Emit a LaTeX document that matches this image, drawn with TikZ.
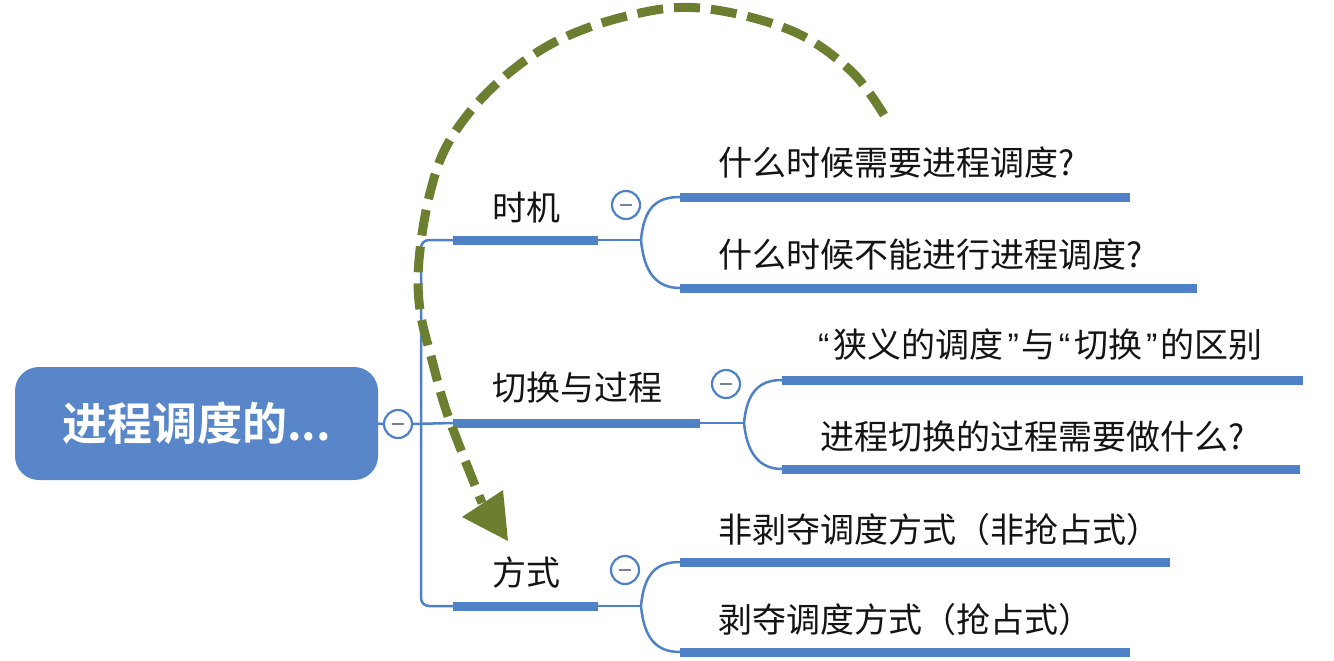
\documentclass[tikz,border=0pt]{standalone}
\usepackage{fontspec}
\setmainfont{Noto Sans CJK SC}[BoldFont={Noto Sans CJK SC Bold}]
\newfontfamily\latinq{Liberation Sans}
\definecolor{mmblue}{RGB}{79,129,199}
\definecolor{rootblue}{RGB}{88,134,200}
\definecolor{olivegreen}{RGB}{108,127,48}
\definecolor{minusgray}{RGB}{120,130,155}
\definecolor{txt}{RGB}{20,20,20}
\tikzset{
  thinln/.style={draw=mmblue, line width=2.5},
  topicbar/.style={draw=mmblue, line width=9},
  topic/.style={anchor=west, inner sep=0, font=\fontsize{34}{38}\selectfont, text=txt},
  collapse/.style={circle, draw=mmblue, line width=2.2, fill=white, minimum size=28, inner sep=0},
  minus/.style={draw=minusgray, line width=2.5},
  rootbox/.style={rectangle, rounded corners=24, fill=rootblue, text=white, minimum width=363, minimum height=113, inner sep=0, font=\fontsize{45}{50}\selectfont\bfseries},
}
\begin{document}
\begin{tikzpicture}[x=1pt,y=-1pt]
\useasboundingbox[fill=white] (0,0) rectangle (1334,661);

% root
\node[rootbox] (root) at (196.5,423.5) {进程调度的...};
\node[collapse] (rc) at (398,424) {};
\draw[minus] ([xshift=-6]rc.center) -- ([xshift=6]rc.center);

% main spine
\coordinate (sp1) at (421,240);
\coordinate (sp3) at (421,606);
\coordinate (b1s) at (453,240); \coordinate (b1e) at (598,240);
\coordinate (b2s) at (453,423); \coordinate (b2e) at (700,423);
\coordinate (b3s) at (453,606); \coordinate (b3e) at (598,606);
\draw[thinln, rounded corners=8] (b1s) -- (sp1) -- (sp3) -- (b3s);
\draw[thinln] (rc.east) -- (b2s);
\draw[thinln] (root.east) -- (rc.west);

% topic bars
\draw[topicbar] (b1s) -- (b1e);
\draw[topicbar] (b2s) -- (b2e);
\draw[topicbar] (b3s) -- (b3e);

% topic labels
\node[topic] (t1) at (492,208) {时机};
\node[topic] (t2) at (492,388) {切换与过程};
\node[topic] (t3) at (492,573) {方式};

% collapse buttons
\node[collapse] (k1) at (626,205) {};
\node[collapse] (k2) at (726,384) {};
\node[collapse] (k3) at (625,570) {};
\foreach \k in {k1,k2,k3}{\draw[minus] ([xshift=-6]\k.center) -- ([xshift=6]\k.center);}

% forks
\coordinate (f1) at (641,240);
\coordinate (f2) at (744,423);
\coordinate (f3) at (641,606);
\draw[thinln] (b1e) -- (f1);
\draw[thinln] (b2e) -- (f2);
\draw[thinln] (b3e) -- (f3);

% child bars
\coordinate (c1as) at (680,197); \coordinate (c1ae) at (1130,197);
\coordinate (c1bs) at (680,288); \coordinate (c1be) at (1197,288);
\coordinate (c2as) at (782,380); \coordinate (c2ae) at (1303,380);
\coordinate (c2bs) at (782,469); \coordinate (c2be) at (1300,469);
\coordinate (c3as) at (680,562); \coordinate (c3ae) at (1170,562);
\coordinate (c3bs) at (680,652); \coordinate (c3be) at (1130,652);

\draw[thinln] (f1) .. controls (644,208) and (656,197) .. (c1as);
\draw[thinln] (f1) .. controls (644,272) and (656,288) .. (c1bs);
\draw[thinln] (f2) .. controls (747,392) and (759,380) .. (c2as);
\draw[thinln] (f2) .. controls (747,453) and (759,469) .. (c2bs);
\draw[thinln] (f3) .. controls (644,574) and (656,562) .. (c3as);
\draw[thinln] (f3) .. controls (644,638) and (656,652) .. (c3bs);

\draw[topicbar] (c1as) -- (c1ae);
\draw[topicbar] (c1bs) -- (c1be);
\draw[topicbar] (c2as) -- (c2ae);
\draw[topicbar] (c2bs) -- (c2be);
\draw[topicbar] (c3as) -- (c3ae);
\draw[topicbar] (c3bs) -- (c3be);

% child labels
\node[topic] (l1a) at (718,163) {什么时候需要进程调度?};
\node[topic] (l1b) at (718,255) {什么时候不能进行进程调度?};
\node[topic] (l2a) at (818,345) {{\latinq“\hspace{4pt}}狭义的调度{\latinq\hspace{4pt}”\hspace{3pt}}与{\latinq\hspace{3pt}“\hspace{4pt}}切换{\latinq\hspace{4pt}”\hspace{3pt}}的区别};
\node[topic] (l2b) at (820,437) {进程切换的过程需要做什么?};
\node[topic] (l3a) at (718,530) {非剥夺调度方式（非抢占式）};
\node[topic] (l3b) at (718,620) {剥夺调度方式（抢占式）};

% dashed green arrow
\coordinate (ds) at (884,115);
\coordinate (de) at (482,503);
\draw[olivegreen, line width=9, dash pattern=on 26 off 11]
  plot[smooth, tension=0.6] coordinates {(884,115) (850,70) (790,30) (700,8) (627,16) (553,43) (493,87) (450,140) (430,193) (419,260) (420,310) (432,360) (445,407) (461,450) (482,503)};
\fill[olivegreen] (462,517) -- (503,490) -- (508,541) -- cycle;
\end{tikzpicture}
\end{document}
